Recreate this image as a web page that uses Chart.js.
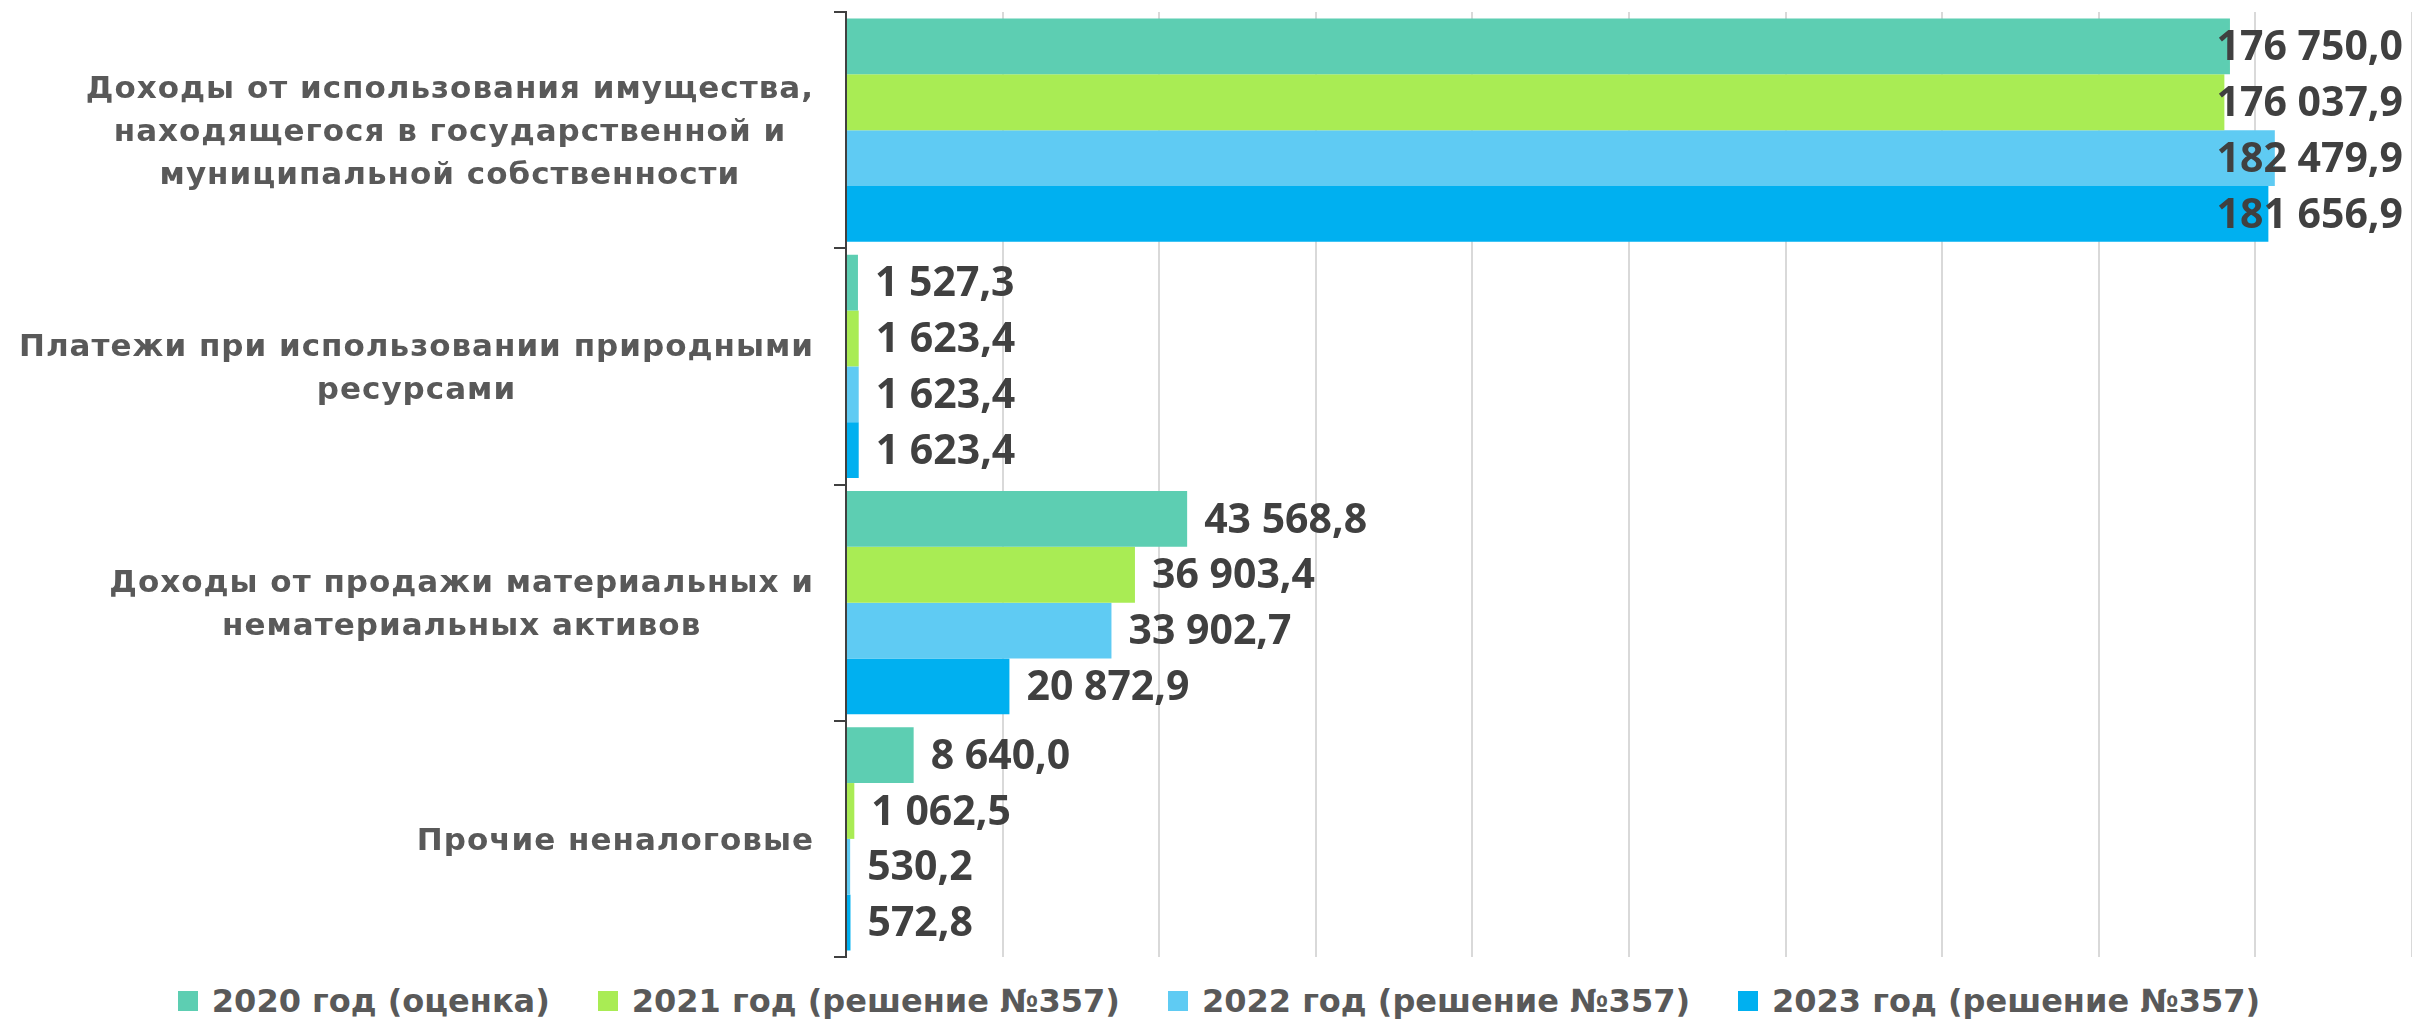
<!DOCTYPE html>
<html>
<head>
<meta charset="utf-8">
<script src="https://cdn.jsdelivr.net/npm/chart.js@4.4.1/dist/chart.umd.min.js"></script>
<style>
  body { margin: 0; background: #fff; }
  #wrap { position: relative; width: 2412px; height: 962px; }
  #legend {
    display: flex; justify-content: center; align-items: center;
    width: 2386px; height: 78px; padding-left: 26px;
    font: bold 32px "DejaVu Sans"; color: #595959;
  }
  .item { display: flex; align-items: center; margin: 0 24px; white-space: nowrap; }
  .box { width: 20px; height: 20px; margin-right: 14px; }
</style>
</head>
<body>
<div id="wrap"><canvas id="chart"></canvas></div>
<div id="legend"></div>
<script>
// категории (по строкам подписи)
const categories = [
  ["Доходы от использования имущества,", "находящегося в государственной и", "муниципальной собственности"],
  ["Платежи при использовании природными", "ресурсами"],
  ["Доходы от продажи материальных и", "нематериальных активов"],
  ["Прочие неналоговые"],
];
const seriesNames = [
  "2020 год (оценка)",
  "2021 год (решение №357)",
  "2022 год (решение №357)",
  "2023 год (решение №357)",
];
const values2020 = [176750.0, 1527.3, 43568.8, 8640.0];
const values2021 = [176037.9, 1623.4, 36903.4, 1062.5];
const values2022 = [182479.9, 1623.4, 33902.7, 530.2];
const values2023 = [181656.9, 1623.4, 20872.9, 572.8];
const seriesColors = ["#5DCEB2", "#A9EC54", "#5FCBF3", "#00B0F0"];
const xMax = 200000;
const xStep = 20000;

// 176750 -> "176 750,0"
function fmt(v) {
  const parts = v.toFixed(1).split(".");
  const intPart = parts[0].replace(/\B(?=(\d{3})+(?!\d))/g, " ");
  return intPart + "," + parts[1];
}

// подписи значений справа от столбцов
const valueLabels = {
  id: "valueLabels",
  afterDatasetsDraw(chart) {
    const ctx = chart.ctx;
    ctx.save();
    ctx.font = "bold 41px 'Open Sans'";
    ctx.fillStyle = "#404040";
    ctx.textBaseline = "middle";
    chart.data.datasets.forEach((ds, i) => {
      chart.getDatasetMeta(i).data.forEach((bar, j) => {
        const text = fmt(ds.data[j]);
        const w = ctx.measureText(text).width;
        let x = bar.x + 17;
        if (x + w > chart.width - 9) x = chart.width - 9 - w;
        ctx.fillText(text, x, bar.y + 2);
      });
    });
    ctx.restore();
  },
};

// подписи категорий: блок прижат к оси, строки по центру блока
const categoryLabels = {
  id: "categoryLabels",
  afterDraw(chart) {
    const ctx = chart.ctx;
    const yScale = chart.scales.y;
    ctx.save();
    ctx.font = "bold 31px 'DejaVu Sans'";
    ctx.letterSpacing = "1px";
    ctx.fillStyle = "#595959";
    ctx.textAlign = "center";
    ctx.textBaseline = "middle";
    const lineHeight = 43;
    categories.forEach((lines, i) => {
      const cy = yScale.getPixelForValue(i) + 3;
      const maxW = Math.max(...lines.map((l) => ctx.measureText(l).width));
      const cx = yScale.right - 32 - maxW / 2;
      lines.forEach((l, k) => {
        ctx.fillText(l, cx, cy + (k - (lines.length - 1) / 2) * lineHeight);
      });
    });
    ctx.restore();
  },
};

const allValues = [values2020, values2021, values2022, values2023];

const ctx = document.getElementById("chart").getContext("2d");
const chart = new Chart(ctx, {
  type: "bar",
  data: {
    labels: categories,
    datasets: allValues.map((vals, i) => ({
      label: seriesNames[i],
      data: vals,
      backgroundColor: seriesColors[i],
      borderWidth: 0,
      categoryPercentage: 0.945,
      barPercentage: 1.0,
    })),
  },
  options: {
    indexAxis: "y",
    responsive: true,
    maintainAspectRatio: false,
    animation: false,
    layout: { padding: { top: 12, bottom: 5, left: 0, right: 0 } },
    scales: {
      x: {
        min: 0,
        max: xMax,
        ticks: { display: false, stepSize: xStep },
        grid: { color: "#D9D9D9", lineWidth: 2, drawTicks: false },
        border: { display: false },
      },
      y: {
        ticks: { display: false },
        grid: {
          offset: true,
          drawOnChartArea: false,
          drawTicks: true,
          tickLength: 12,
          color: "#404040",
          lineWidth: 2,
        },
        border: { color: "#404040", width: 2 },
        afterFit(scale) {
          scale.width = 846;
        },
      },
    },
    plugins: {
      legend: { display: false },
      tooltip: { enabled: false },
    },
  },
  plugins: [valueLabels, categoryLabels],
});

// легенда снизу
const legendEl = document.getElementById("legend");
seriesNames.forEach((name, i) => {
  const item = document.createElement("div");
  item.className = "item";
  const box = document.createElement("span");
  box.className = "box";
  box.style.background = seriesColors[i];
  const label = document.createElement("span");
  label.textContent = name;
  item.appendChild(box);
  item.appendChild(label);
  legendEl.appendChild(item);
});
</script>
</body>
</html>
